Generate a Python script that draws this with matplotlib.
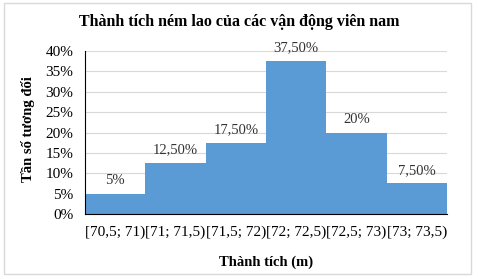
import matplotlib
matplotlib.use("Agg")
import matplotlib.pyplot as plt
from matplotlib.patches import Rectangle
from matplotlib.ticker import FuncFormatter

categories = ["[70,5; 71)", "[71; 71,5)", "[71,5; 72)", "[72; 72,5)", "[72,5; 73)", "[73; 73,5)"]
values = [5, 12.5, 17.5, 37.5, 20, 7.5]
labels = ["5%", "12,50%", "17,50%", "37,50%", "20%", "7,50%"]
yticks = [0, 5, 10, 15, 20, 25, 30, 35, 40]

plt.rcParams['font.family'] = ['Liberation Serif', 'DejaVu Serif']

fig = plt.figure(figsize=(4.78, 2.79), dpi=100)
fig.patches.append(Rectangle((0.008, 0.018), 0.977, 0.971, transform=fig.transFigure,
                             fill=False, edgecolor='#d9d9d9', linewidth=1))
ax = fig.add_axes([0.178, 0.233, 0.757, 0.584])

x = list(range(len(values)))
ax.bar(x, values, width=1.0, color='#5b9bd5', edgecolor='none', linewidth=0, zorder=2)
for xi, v, lab in zip(x, values, labels):
    ax.annotate(lab, (xi, v), xytext=(0, 9.5), textcoords='offset points',
                ha='center', va='center', fontsize=10.5, color='#333333', zorder=3)

ax.set_xlim(-0.5, len(values) - 0.5)
ax.set_ylim(0, 40)
ax.set_yticks(yticks)
ax.yaxis.set_major_formatter(FuncFormatter(lambda v, p: f"{int(v)}%"))
ax.set_xticks(x)
ax.set_xticklabels(categories)
ax.tick_params(axis='both', labelsize=11, length=0, colors='black')
ax.tick_params(axis='x', pad=8)
ax.tick_params(axis='y', pad=8.5)
ax.grid(axis='y', color='#d9d9d9', linewidth=0.8, zorder=0)
for s in ['top', 'right']:
    ax.spines[s].set_visible(False)
ax.spines['left'].set_color('black')
ax.spines['bottom'].set_color('black')
ax.spines['left'].set_linewidth(0.8)
ax.spines['bottom'].set_linewidth(0.8)

fig.suptitle("Thành tích ném lao của các vận động viên nam", fontsize=11.5, fontweight='bold',
             x=0.5, y=1 - 22 / 279, va='center')
ax.set_xlabel("Thành tích (m)", fontsize=10.5, fontweight='bold')
ax.set_ylabel("Tần số tương đối", fontsize=10.5, fontweight='bold')
ax.xaxis.set_label_coords(0.5, -0.294)
ax.xaxis.label.set_va('center')
ax.yaxis.set_label_coords(-0.158, 0.52)
ax.yaxis.label.set_va('center')

fig.savefig("out.png", dpi=100)
